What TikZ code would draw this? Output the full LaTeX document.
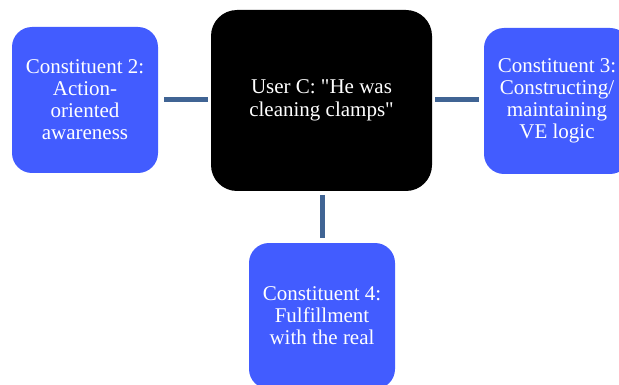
\documentclass[tikz,border=0pt]{standalone}
\usepackage{fontspec}
\setmainfont{Liberation Serif}[Ligatures=TeXOff]
\definecolor{boxblue}{RGB}{66,92,255}
\definecolor{linkblue}{RGB}{64,100,148}
\begin{document}
\begin{tikzpicture}[x=1pt,y=-1pt,
  every node/.style={inner sep=0pt, outer sep=0pt},
  cbox/.style={fill=boxblue, rounded corners=20pt, minimum width=146pt, minimum height=146pt,
    text=white, align=center, font=\fontsize{21}{22}\selectfont},
  hub/.style={fill=black, rounded corners=26pt, minimum width=221pt, minimum height=181pt,
    text=white, align=center, font=\fontsize{21}{22.5}\selectfont},
  link/.style={draw=linkblue, line width=5pt, line cap=butt}]
\useasboundingbox (0,0) rectangle (619,385);
\node[hub] (c) at (321.5,100.5) {User C: "He was\\cleaning clamps"};
\node[cbox] (l) at (85,100) {Constituent 2:\\Action-\\oriented\\awareness};
\node[cbox] (r) at (557,101) {Constituent 3:\\Constructing/\\maintaining\\VE logic};
\node[cbox] (b) at (322,316) {Constituent 4:\\Fulfillment\\with the real};
\draw[link, shorten <=6pt, shorten >=3pt] (l.east) -- (l.east -| c.west);
\draw[link, shorten <=3pt, shorten >=5pt] (c.east |- 0,100) -- (r.west |- 0,100);
\draw[link, shorten <=4pt, shorten >=5pt] (c.south -| b.north) -- (b.north);
\end{tikzpicture}
\end{document}
